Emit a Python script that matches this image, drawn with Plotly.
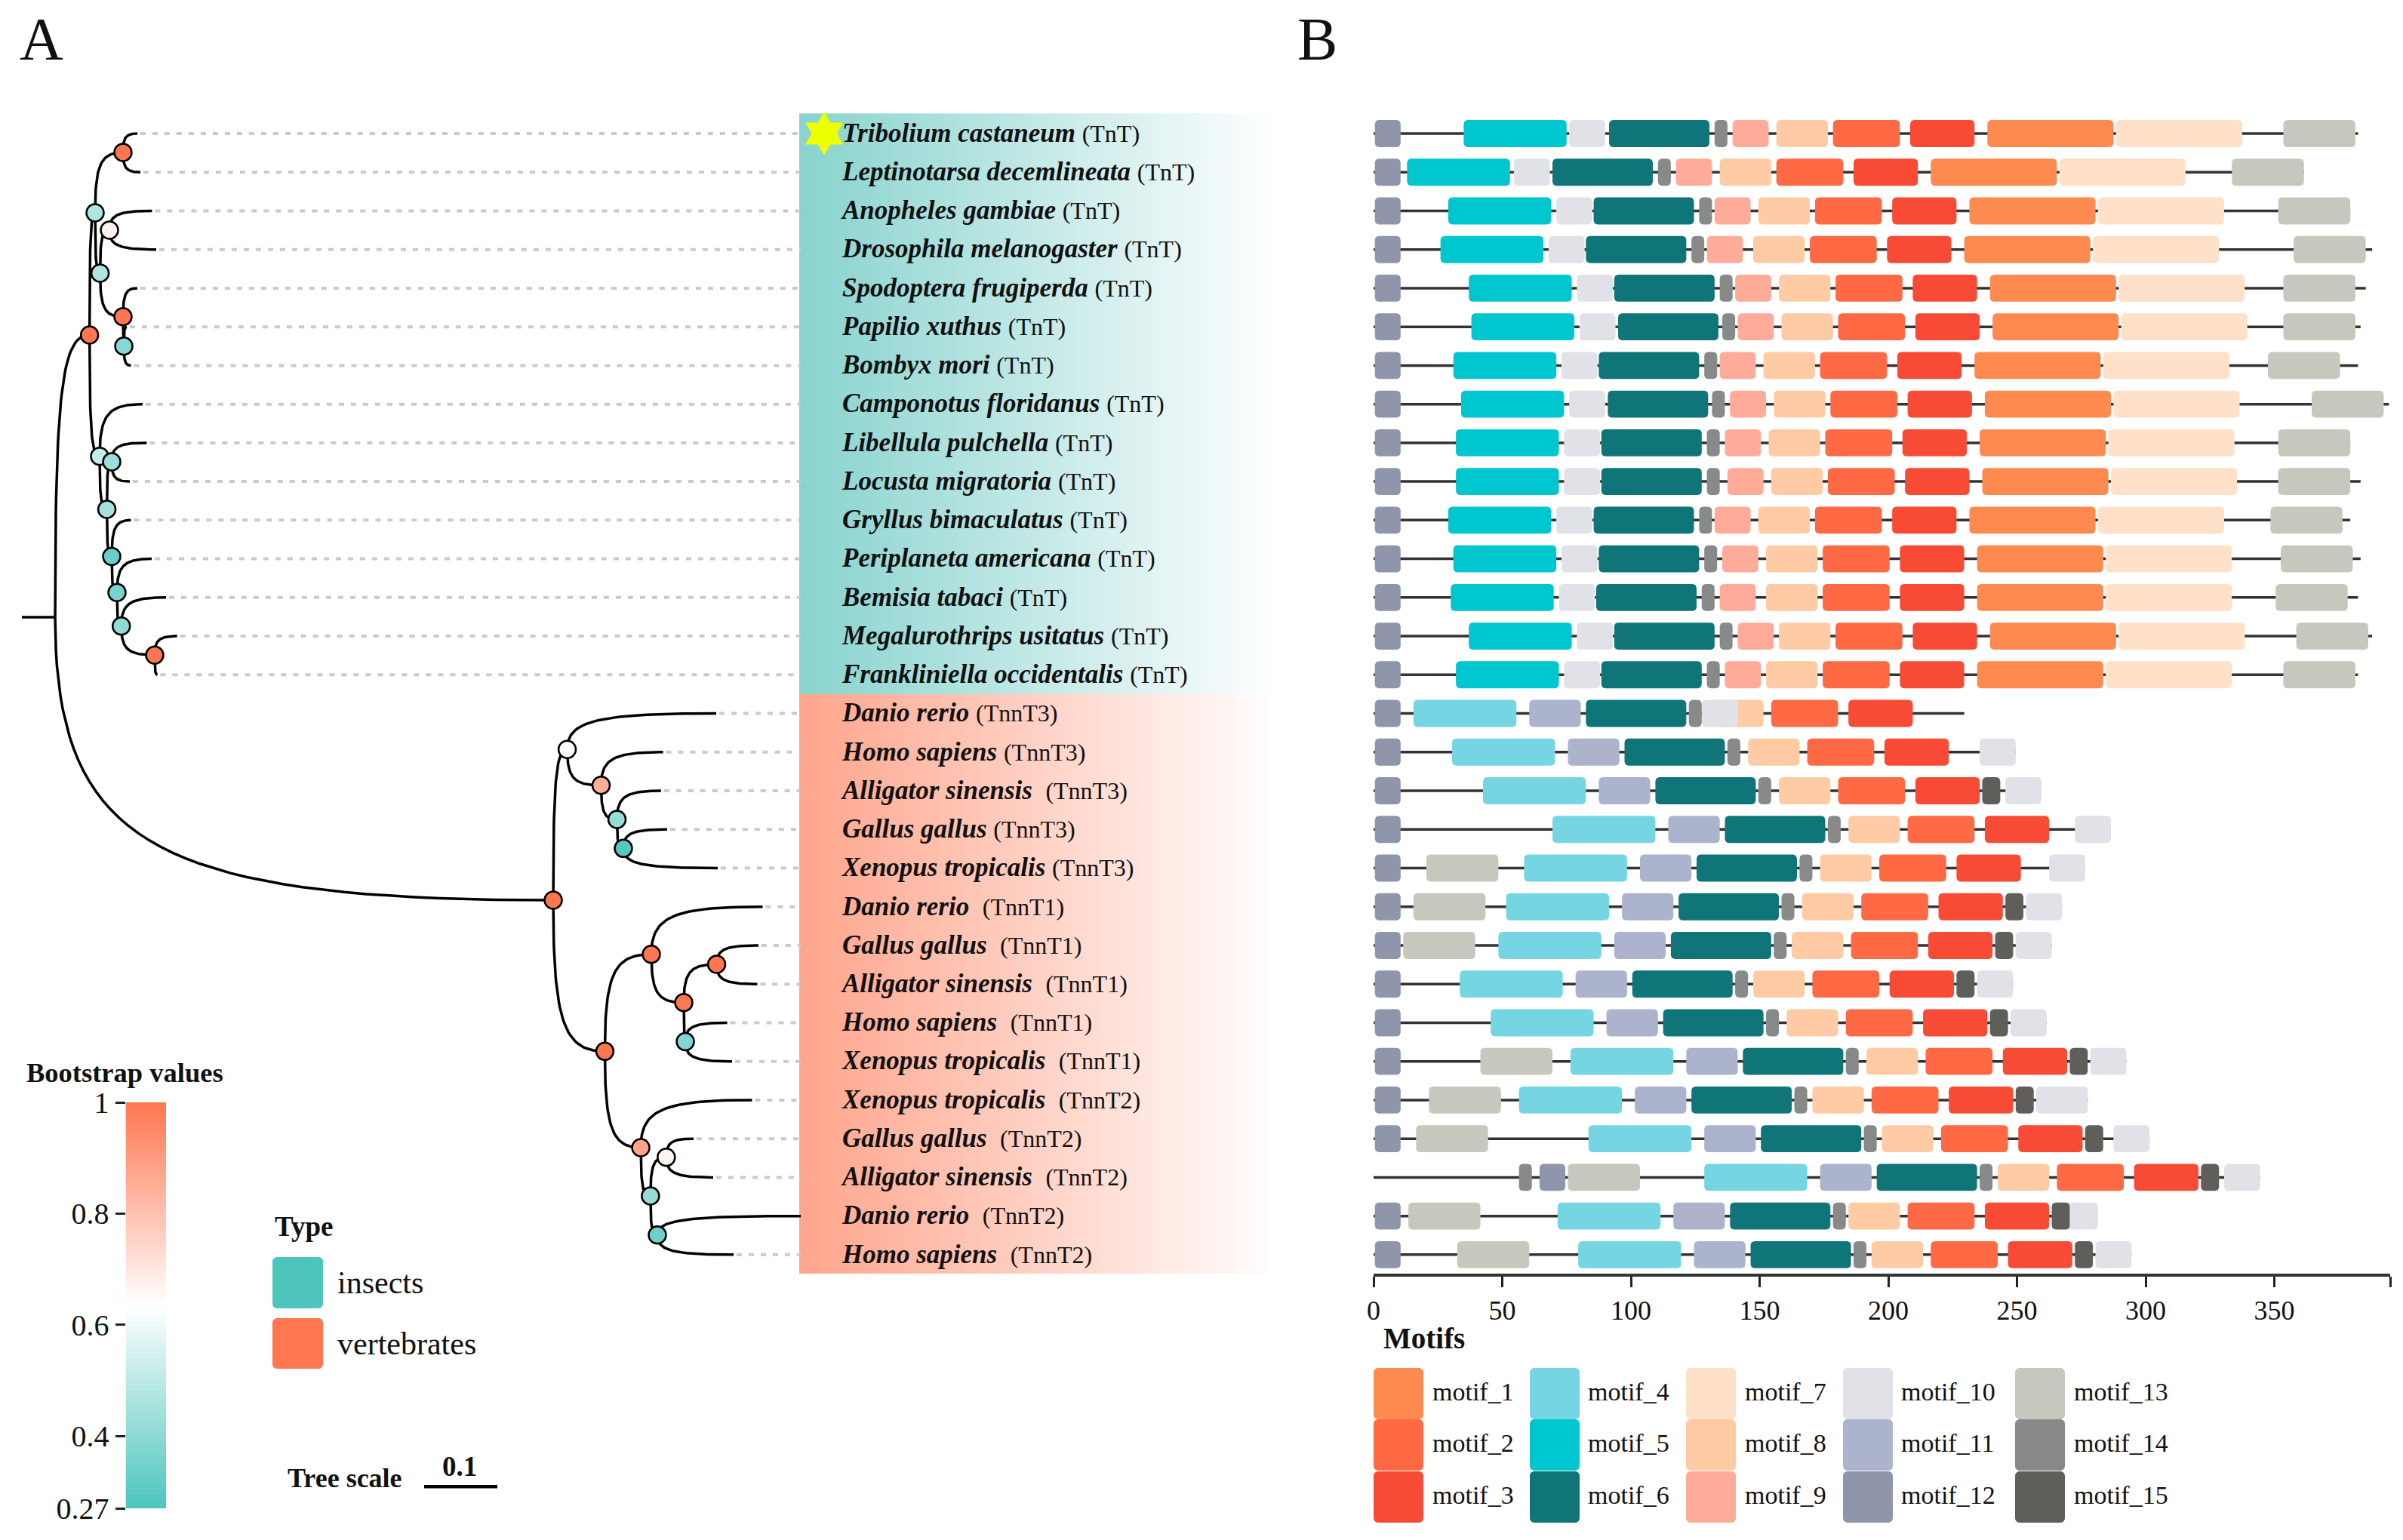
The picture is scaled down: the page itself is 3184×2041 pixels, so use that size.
import numpy as np
import plotly.graph_objects as go

# ---- taxa, top to bottom
species = ["Tribolium castaneum", "Leptinotarsa decemlineata", "Anopheles gambiae", "Drosophila melanogaster",
           "Spodoptera frugiperda", "Papilio xuthus", "Bombyx mori", "Camponotus floridanus", "Libellula pulchella",
           "Locusta migratoria", "Gryllus bimaculatus", "Periplaneta americana", "Bemisia tabaci",
           "Megalurothrips usitatus", "Frankliniella occidentalis", "Danio rerio", "Homo sapiens",
           "Alligator sinensis", "Gallus gallus", "Xenopus tropicalis", "Danio rerio", "Gallus gallus",
           "Alligator sinensis", "Homo sapiens", "Xenopus tropicalis", "Xenopus tropicalis", "Gallus gallus",
           "Alligator sinensis", "Danio rerio", "Homo sapiens"]
genes = ["TnT"] * 15 + ["TnnT3"] * 5 + ["TnnT1"] * 5 + ["TnnT2"] * 5
gene_gap = [1] * 15 + [1, 1, 2, 1, 1, 2, 2, 2, 2, 2, 2, 2, 2, 2, 2]

# ---- tree, x in substitutions per site, y in rows
node_name = ["R", "ins", "a", "b", "c", "d", "e", "f", "j", "k", "l", "m", "n", "o", "p",
             "V", "W", "X", "Y", "Z", "Q", "S", "T", "U", "G", "H", "I", "J", "K"]
node_parent = [None, "R", "ins", "a", "a", "c", "c", "e", "ins", "l", "j", "l", "m", "n", "o",
               "R", "V", "W", "X", "Y", "V", "Q", "Q", "S", "U", "U", "T", "I", "I"]
node_x = [0.0454, 0.0924, 0.1000, 0.1381, 0.1068, 0.1196, 0.1381, 0.1392, 0.1062, 0.1227, 0.1161, 0.1227,
          0.1299, 0.1358, 0.1814, 0.7258, 0.7449, 0.7912, 0.8129, 0.8216, 0.7963, 0.8598, 0.8454, 0.9041,
          0.9490, 0.9062, 0.8586, 0.8802, 0.8680]
node_row = [12.51, 5.21, 2.05, 0.49, 3.61, 2.50, 4.74, 5.50, 8.35, 8.49, 9.72, 10.94, 11.87, 12.74, 13.49,
            19.83, 15.93, 16.86, 17.74, 18.49, 23.74, 21.23, 26.23, 22.48, 21.49, 23.49, 27.48, 26.48, 28.49]
node_support = [1.0, 1.0, 0.47, 1.0, 0.47, 0.67, 1.0, 0.39, 0.52, 0.43, 0.45, 0.33, 0.36, 0.41, 1.0,
                1.0, 0.63, 0.85, 0.42, 0.29, 1.0, 1.0, 0.88, 1.0, 1.0, 0.38, 0.42, 0.66, 0.34]
tip_parent = ["b", "b", "d", "d", "e", "f", "f", "j", "k", "k", "m", "n", "o", "p", "p",
              "W", "X", "Y", "Z", "Z", "S", "G", "G", "H", "H", "T", "J", "J", "K", "K"]
tip_x = [0.1577, 0.1619, 0.1778, 0.1835, 0.1577, 0.1433, 0.1490, 0.1649, 0.1706, 0.1474, 0.1490, 0.1773,
         0.1969, 0.2121, 0.1851, 0.9485, 0.8759, 0.8730, 0.8814, 0.9505, 1.0119, 1.0062, 1.0046, 0.9634,
         0.9701, 0.9974, 0.9175, 0.9443, 1.0639, 0.9722]

# ---- motif start positions (aa), one value per taxon, None when the motif is absent
motif_1 = [238.5, 216.5, 231.5, 229.5, 239.5, 240.5, 233.5, 237.5, 235.5, 236.5, 231.5, 234.5, 234.5, 239.5, 234.5] + [None] * 15
motif_2 = [178.5, 156.5, 171.5, 169.5, 179.5, 180.5, 173.5, 177.5, 175.5, 176.5, 171.5, 174.5, 174.5, 179.5, 174.5,
           154.5, 168.5, 180.5, 207.5, 196.5, 189.5, 185.5, 170.5, 183.5, 214.5, 193.5, 220.5, 265.5, 207.5, 216.5]
motif_3 = [208.5, 186.5, 201.5, 199.5, 209.5, 210.5, 203.5, 207.5, 205.5, 206.5, 201.5, 204.5, 204.5, 209.5, 204.5,
           184.5, 198.5, 210.5, 237.5, 226.5, 219.5, 215.5, 200.5, 213.5, 244.5, 223.5, 250.5, 295.5, 237.5, 246.5]
motif_4 = [None] * 15 + [15.5, 30.5, 42.5, 69.5, 58.5, 51.5, 48.5, 33.5, 45.5, 76.5, 56.5, 83.5, 128.5, 71.5, 79.5]
motif_5 = [35, 13, 29, 26, 37, 38, 31, 34, 32, 32, 29, 31, 30, 37, 32] + [None] * 15
motif_6 = [91.5, 69.5, 85.5, 82.5, 93.5, 95, 87.5, 91, 88.5, 88.5, 85.5, 87.5, 86.5, 93.5, 88.5,
           82.5, 97.5, 109.5, 136.5, 125.5, 118.5, 115.5, 100.5, 112.5, 143.5, 123.5, 150.5, 195.5, 138.5, 146.5]
motif_7 = [288.5, 266.5, 281.5, 279.5, 289.5, 290.5, 283.5, 287.5, 285.5, 286.5, 281.5, 284.5, 284.5, 289.5, 284.5] + [None] * 15
motif_8 = [156.5, 134.5, 149.5, 147.5, 157.5, 158.5, 151.5, 155.5, 153.5, 154.5, 149.5, 152.5, 152.5, 157.5, 152.5,
           131.5, 145.5, 157.5, 184.5, 173.5, 166.5, 162.5, 147.5, 160.5, 191.5, 170.5, 197.5, 242.5, 184.5, 193.5]
motif_9 = [139.5, 117.5, 132.5, 129.5, 140.5, 141.5, 134.5, 138.5, 136.5, 137.5, 132.5, 135.5, 134.5, 141.5, 136.5] + [None] * 15
motif_10 = [76, 54.5, 71, 68, 79, 80, 73, 76, 74, 74, 71, 73, 72, 79, 74,
            127.5, 235.5, 245.5, 272.5, 262.5, 253.5, 249.5, 234.5, 247.5, 278.5, 257.5, 287.5, 330.5, 267.5, 280.5]
motif_11 = [None] * 15 + [60.5, 75.5, 87.5, 114.5, 103.5, 96.5, 93.5, 78.5, 90.5, 121.5, 101.5, 128.5, 173.5, 116.5, 124.5]
motif_12 = [0.5] * 27 + [64.5] + [0.5] * 2
motif_13 = [353.5, 333.5, 351.5, 357.5, 353.5, 353.5, 347.5, 364.5, 351.5, 351.5, 348.5, 352.5, 350.5, 358.5, 353.5,
            None, None, None, None, 20.5, 15.5, 11.5, None, None, 41.5, 21.5, 16.5, 75.5, 13.5, 32.5]
motif_14 = [132.5, 110.5, 126.5, 123.5, 134.5, 135.5, 128.5, 131.5, 129.5, 129.5, 126.5, 128.5, 127.5, 134.5, 129.5,
            122.5, 137.5, 149.5, 176.5, 165.5, 158.5, 155.5, 140.5, 152.5, 183.5, 163.5, 190.5, 235.5, 178.5, 186.5]
motif_15 = [None, None, None, None, None, None, None, None, None, None, None, None, None, None, None,
            None, None, 236.5, None, None, 245.5, 241.5, 226.5, 239.5, 270.5, 249.5, 276.5, 321.5, 263.5, 272.5]
# second copies: (motif index, row, start)
extra_hits = [(10, 25, 263.5), (14, 27, 56.5)]
protein_len = [382.5, 361.5, 379.5, 388, 385.5, 383.5, 382.5, 394.5, 379.5, 383.5, 379.5, 383.5, 382.5, 388, 382.5,
               229.5, 249.5, 259.5, 286.5, 276.5, 267.5, 263.5, 248.5, 261.5, 292.5, 277.5, 301.5, 344.5, 281.5, 294.5]

motif_starts = [motif_1, motif_2, motif_3, motif_4, motif_5, motif_6, motif_7, motif_8,
                motif_9, motif_10, motif_11, motif_12, motif_13, motif_14, motif_15]
motif_width = [49, 26, 25, 40, 40, 39, 49, 20, 14, 14, 20, 10, 28, 5, 7]
motif_color = ["#FF8A50", "#FF6A45", "#F84B35", "#75D5E3", "#00C6CF", "#0F7578", "#FFE0C9", "#FFCBA4",
               "#FFAB9A", "#E0E2E8", "#ABB4CC", "#8F96AB", "#C8C7BD", "#878A88", "#605E5A"]

x_ticks = [0, 50, 100, 150, 200, 250, 300, 350, 395]
x_ticktext = ["0", "50", "100", "150", "200", "250", "300", "350", ""]
boot_ticks = [0.27, 0.4, 0.6, 0.8, 1]
boot_text = ["0.27", "0.4", "0.6", "0.8", "1"]
FONT = "Liberation Serif"
INK = "#111111"
# the page has an 8px body margin, so the figure is that much smaller
PAGE_MARGIN = 8
W, H = 3184 - PAGE_MARGIN, 2041 - PAGE_MARGIN
boot_scale = [[0, "#4DC5BD"], [0.5, "#FFFFFF"], [1, "#FF7650"]]


def px(x):
    return (x - PAGE_MARGIN) / W


def py(y):
    return 1 - (y - PAGE_MARGIN) / H


def rounded_box(x0, x1, y0, y1, rx, ry):
    # rounded rectangle outline, None at the end so many can share a trace
    a = np.linspace(0, np.pi / 2, 6)
    xs, ys = [], []
    for cx, cy, sx, sy in [(x1 - rx, y0 + ry, 1, -1), (x1 - rx, y1 - ry, 1, 1),
                           (x0 + rx, y1 - ry, -1, 1), (x0 + rx, y0 + ry, -1, -1)]:
        arc = a if sx * sy < 0 else a[::-1]
        xs += list(cx + sx * rx * np.sin(arc))
        ys += list(cy + sy * ry * np.cos(arc))
    return xs + [xs[0], None], ys + [ys[0], None]


def branch(x0, y0, x1, y1):
    # leaves the parent vertically, arrives at the child horizontally
    t = np.linspace(0, 1, 40)
    dx, dy = x1 - x0, y1 - y0
    cx = 3 * (1 - t) * t ** 2 * 0.2 + t ** 3
    cy = 3 * (1 - t) ** 2 * t * 0.8 + 3 * (1 - t) * t ** 2 + t ** 3
    return list(x0 + dx * cx) + [None], list(y0 + dy * cy) + [None]


fig = go.Figure()

# gradient bands behind the names
band_x = np.linspace(1.0639, 1.715, 160)
band_z = [list(np.linspace(0, 1, 160))]
for y_top, y_bot, start_col in [(-0.52, 14.5, "#88D3CE"), (14.5, 29.49, "#FFA58C")]:
    fig.add_trace(go.Heatmap(x=band_x, y0=(y_top + y_bot) / 2, dy=y_bot - y_top, z=band_z, showscale=False,
                             colorscale=[[0, start_col], [1, "#FFFFFF"]], hoverinfo="skip"))

# dotted leaders
lead_x, lead_y = [], []
for i, x in enumerate(tip_x):
    if x < 1.06:
        lead_x += [x + 0.004, 1.0639, None]
        lead_y += [i, i, None]
fig.add_trace(go.Scatter(x=lead_x, y=lead_y, mode="lines", line=dict(color="#CACACA", width=4, dash="7px,9px")))

# branches
pos = {n: (x, r) for n, x, r in zip(node_name, node_x, node_row)}
bx, by = [0, pos["R"][0], None], [pos["R"][1], pos["R"][1], None]
for n, parent in zip(node_name, node_parent):
    if parent:
        xs, ys = branch(*pos[parent], *pos[n])
        bx += xs
        by += ys
for i, parent in enumerate(tip_parent):
    xs, ys = branch(*pos[parent], tip_x[i], i)
    bx += xs
    by += ys
fig.add_trace(go.Scatter(x=bx, y=by, mode="lines", line=dict(color="#000000", width=3.5)))

# support values on the internal nodes
fig.add_trace(go.Scatter(x=node_x[1:], y=node_row[1:], mode="markers",
                         marker=dict(size=23, color=node_support[1:], colorscale=boot_scale, cmin=0.27, cmax=1,
                                     line=dict(color="#000000", width=2.5))))

# names
labels = [f'<b><i>{s}</i></b>{chr(160) * g}<span style="font-size:32px">({g_name})</span>'
          for s, g, g_name in zip(species, gene_gap, genes)]
fig.add_trace(go.Scatter(x=[1.1206] * 30, y=[i + 0.04 for i in range(30)], mode="text", text=labels, textposition="middle right",
                         textfont=dict(family=FONT, size=35, color=INK)))
fig.add_trace(go.Scatter(x=[1.0959], y=[0], mode="markers",
                         marker=dict(symbol="hexagram", size=44, color="#EEFF00", line=dict(width=0))))

# tree scale bar
fig.add_trace(go.Scatter(x=[0.5495, 0.6495], y=[35, 35], mode="lines", line=dict(color="#000000", width=4.5)))

# protein backbones, then motif boxes
line_x, line_y = [], []
for i, n in enumerate(protein_len):
    line_x += [0, n, None]
    line_y += [i, i, None]
fig.add_trace(go.Scatter(x=line_x, y=line_y, xaxis="x2", yaxis="y", mode="lines", line=dict(color="#333333", width=3.5)))
for m, starts in enumerate(motif_starts):
    xs, ys = [], []
    hits = [(i, s) for i, s in enumerate(starts) if s is not None]
    hits += [(row, s) for k, row, s in extra_hits if k == m + 1]
    for i, s in hits:
        a, b = rounded_box(s, s + motif_width[m], i - 0.35, i + 0.35, min(1.5, motif_width[m] / 3), 0.1)
        xs += a
        ys += b
    fig.add_trace(go.Scatter(x=xs, y=ys, xaxis="x2", yaxis="y", mode="lines", line=dict(width=0),
                             fill="toself", fillcolor=motif_color[m], name=f"motif_{m + 1}"))

# bootstrap colour bar with its own value axis
boot_y = np.linspace(0.27, 1, 180)
fig.add_trace(go.Heatmap(x=[0], y=boot_y, z=[[v] for v in boot_y], xaxis="x3", yaxis="y3", zmin=0.27, zmax=1,
                         colorscale=boot_scale, showscale=False, hoverinfo="skip"))

shapes = []
annots = []


def swatch(x0, x1, y0, y1, color, r=6):
    xs, ys = rounded_box(px(x0), px(x1), py(y1), py(y0), r / W, r / H)
    xs, ys = xs[:-1], ys[:-1]
    path = "M " + " L ".join(f"{a:.5f},{b:.5f}" for a, b in zip(xs, ys)) + " Z"
    shapes.append(dict(type="path", xref="paper", yref="paper", path=path, fillcolor=color, line=dict(width=0), layer="below"))


def note(x, y, text, size, anchor="left", bold=False):
    annots.append(dict(x=px(x), y=py(y), xref="paper", yref="paper", text=f"<b>{text}</b>" if bold else text, showarrow=False,
                       xanchor=anchor, yanchor="middle", font=dict(family=FONT, size=size, color=INK)))


note(55, 52, "A", 80, "center")
note(1745, 52, "B", 80, "center")
note(33, 1421, "Bootstrap values", 36.5, bold=True)
note(362, 1625, "Type", 37, bold=True)
swatch(361, 428, 1666, 1734, "#4DC5BD")
swatch(361, 428, 1747, 1814, "#FF7650")
note(445, 1700, "insects", 42)
note(445, 1781, "vertebrates", 42)
note(379, 1959, "Tree scale", 36, bold=True)
note(609, 1943, "0.1", 37, "center", bold=True)
note(1831, 1773, "Motifs", 39, bold=True)

swatch_x = [1820, 2027, 2234, 2442, 2670]
text_x = [1896, 2102, 2310, 2517, 2746]
swatch_y = [1813, 1881, 1950]
for m in range(15):
    c, r = m // 3, m % 3
    swatch(swatch_x[c], swatch_x[c] + 66, swatch_y[r], swatch_y[r] + 68, motif_color[m])
    note(text_x[c], swatch_y[r] + 31, f"motif_{m + 1}", 34)

fig.update_layout(
    template="none", width=W, height=H, margin=dict(l=0, r=0, t=0, b=0, pad=0), showlegend=False,
    paper_bgcolor="#FFFFFF", plot_bgcolor="rgba(0,0,0,0)", shapes=shapes, annotations=annots,
    font=dict(family=FONT, color=INK),
    xaxis=dict(domain=[0, px(1783)], range=[-0.02165, 1.8082], visible=False, fixedrange=True, automargin=False),
    yaxis=dict(domain=[0, 1], range=[36.38, -3.298], visible=False, fixedrange=True, automargin=False),
    xaxis2=dict(domain=[px(1820), px(3167)], range=[0, 395], anchor="free", position=py(1690), side="bottom",
                showgrid=False, zeroline=False, showline=True, linewidth=3.5, linecolor="#333333", automargin=False,
                ticks="outside", ticklen=14, tickwidth=2.5, tickcolor="#222222",
                tickvals=x_ticks, ticktext=x_ticktext, tickfont=dict(family=FONT, size=36, color=INK)),
    xaxis3=dict(domain=[px(166.5), px(220)], range=[-0.5, 0.5], anchor="y3", visible=False, automargin=False),
    yaxis3=dict(domain=[py(1999), py(1461)], range=[0.27, 1], anchor="x3", side="left", showgrid=False, zeroline=False,
                showline=False, ticks="outside", ticklen=13, tickwidth=3, tickcolor="#222222", automargin=False,
                tickvals=boot_ticks, ticktext=boot_text, tickfont=dict(family=FONT, size=40, color=INK)),
)

fig.write_html("out.html")
